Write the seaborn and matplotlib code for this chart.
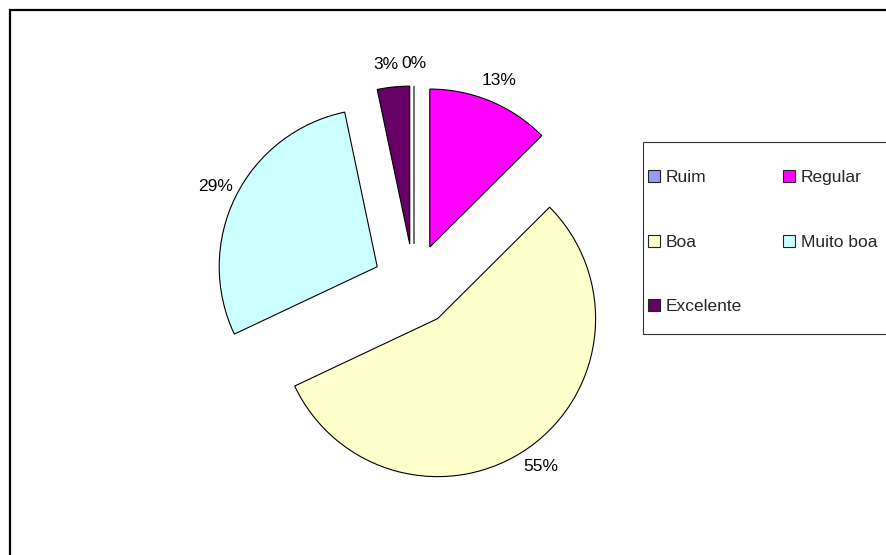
import matplotlib
matplotlib.use("Agg")
import matplotlib.pyplot as plt
import seaborn as sns
from matplotlib.patches import Patch, Rectangle
from matplotlib.transforms import ScaledTranslation

categories = ["Ruim", "Regular", "Boa", "Muito boa", "Excelente"]
counts = [0, 38, 168, 87, 10]
colors_hex = ["#9999FF", "#FF00FF", "#FFFFCC", "#CCFFFF", "#660066"]

sns.set_theme(style="white")
plt.rcParams['font.family'] = ['Liberation Sans', 'DejaVu Sans']
palette = sns.color_palette(colors_hex)

W, H = 886, 555
fig = plt.figure(figsize=(W / 100, H / 100), dpi=100)
ax = fig.add_axes([0, 0, 1, 1])

cx, cy, R = 414, 285, 158
wedges, texts, autotexts = ax.pie(
    counts,
    colors=palette,
    explode=[0.26] * len(counts),
    startangle=90,
    counterclock=False,
    autopct='%1.0f%%',
    pctdistance=1.14,
    radius=1,
    wedgeprops=dict(edgecolor='black', linewidth=0.8),
    textprops=dict(fontsize=12.5, color='black'),
)
# nudge the "3%" label slightly left so it sits next to "0%"
autotexts[4].set_transform(ax.transData + ScaledTranslation(-0.05, 0, fig.dpi_scale_trans))
ax.set_aspect('auto')
ax.set_xlim(-cx / R, (W - cx) / R)
ax.set_ylim(-(H - cy) / R, cy / R)
ax.axis('off')

# outer frame
fig.add_artist(Rectangle((9.5 / W, -0.1), 2, 1.1 - 9.5 / H, transform=fig.transFigure,
                         fill=False, edgecolor='black', linewidth=1.6))
# legend frame
fig.add_artist(Rectangle((643 / W, 1 - 334 / H), 1.0, (334 - 142) / H, transform=fig.transFigure,
                         fill=False, edgecolor='#333333', linewidth=0.8))

order = [0, 2, 4, 1, 3]
handles = [Patch(facecolor=palette[i], edgecolor='#222222', linewidth=0.8) for i in order]
labels = [categories[i] for i in order]
fig.legend(handles, labels, ncol=2, frameon=False, fontsize=12.5,
           loc='upper left', bbox_to_anchor=(648 / W, 1 - 170 / H),
           handlelength=0.7, handleheight=0.7, handletextpad=0.3,
           columnspacing=2.4, labelspacing=2.85, borderpad=0, borderaxespad=0)

fig.savefig("out.png", dpi=100)
